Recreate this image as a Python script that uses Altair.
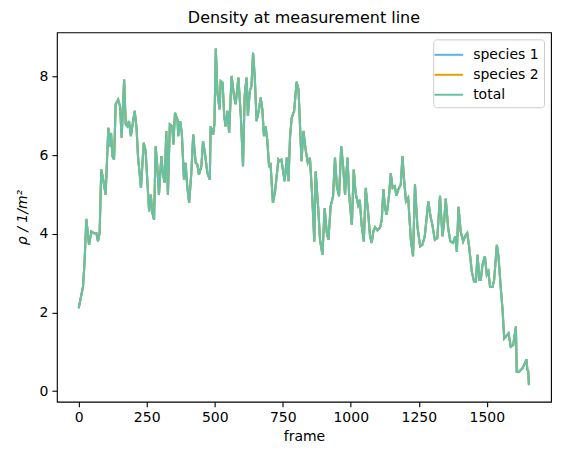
import altair as alt
import pandas as pd

frames = [
    0, 16, 22, 28, 38, 47, 56, 65, 71, 77,
    83, 89, 99, 109, 114, 119, 124, 130, 136, 145,
    152, 158, 167, 173, 179, 185, 192, 200, 206, 213,
    218, 229, 239, 246, 259, 265, 271, 277, 283, 289,
    295, 304, 310, 316, 322, 328, 335, 344, 348, 354,
    363, 366, 373, 379, 387, 393, 399, 406, 414, 421,
    430, 436, 442, 451, 457, 464, 473, 482, 485, 494,
    499, 504, 510, 518, 522, 529, 535, 540, 547, 553,
    562, 571, 577, 587, 596, 604, 610, 617, 622, 629,
    635, 641, 647, 654, 663, 669, 675, 681, 687, 693,
    700, 705, 714, 722, 734, 738, 745, 757, 765, 771,
    777, 783, 792, 801, 808, 819, 826, 834, 842, 850,
    859, 866, 871, 880, 887, 896, 904, 912, 918, 926,
    935, 942, 949, 957, 965, 972, 979, 988, 994, 1004,
    1011, 1018, 1027, 1033, 1040, 1048, 1055, 1064, 1071, 1077,
    1083, 1089, 1098, 1108, 1114, 1120, 1126, 1132, 1141, 1147,
    1154, 1162, 1168, 1175, 1184, 1190, 1196, 1203, 1211, 1221,
    1229, 1236, 1245, 1255, 1263, 1272, 1285, 1293, 1300, 1309,
    1318, 1328, 1337, 1343, 1349, 1358, 1366, 1376, 1384, 1390, 1396,
    1404, 1413, 1420, 1428, 1435, 1445, 1453, 1460, 1466, 1473,
    1478, 1484, 1493, 1500, 1506, 1512, 1521, 1527, 1537, 1543,
    1551, 1558, 1564, 1570, 1580, 1588, 1597, 1607, 1610, 1619,
    1631, 1637, 1646, 1649, 1652, 1655,
]

density_total = [
    2.11, 2.66, 3.34, 4.38, 3.72, 4.06, 4.02, 4.02, 3.81, 4.02,
    5.64, 5.43, 5.00, 6.70, 6.23, 6.57, 5.98, 5.89, 7.30, 7.42,
    7.25, 6.45, 7.93, 6.79, 6.74, 6.87, 6.49, 6.87, 7.13, 6.66,
    5.98, 5.17, 6.32, 6.11, 4.57, 5.00, 4.53, 4.36, 6.23, 5.72,
    5.00, 5.98, 5.51, 5.30, 6.62, 5.00, 6.79, 6.74, 6.28, 7.08,
    6.91, 6.49, 6.87, 6.57, 5.38, 5.81, 5.21, 4.79, 5.55, 6.53,
    5.81, 5.77, 5.51, 5.72, 6.36, 6.06, 5.55, 5.38, 6.74, 6.53,
    6.79, 8.72, 7.59, 7.17, 7.89, 7.85, 7.00, 6.74, 7.13, 6.57,
    8.02, 7.51, 7.30, 7.98, 7.00, 5.72, 7.51, 7.98, 7.00, 7.64,
    7.76, 8.61, 8.02, 6.87, 7.17, 7.47, 7.17, 6.49, 6.74, 6.40,
    5.70, 5.81, 4.79, 5.09, 5.89, 5.85, 5.89, 5.34, 5.94, 5.34,
    6.49, 6.96, 7.13, 7.87, 7.68, 5.85, 6.62, 6.15, 5.81, 5.94,
    4.87, 3.81, 5.59, 4.70, 3.85, 3.47, 4.66, 4.02, 3.85, 4.70,
    4.96, 5.94, 5.21, 4.96, 6.23, 5.72, 5.00, 5.94, 5.00, 4.23,
    5.64, 5.04, 4.74, 4.87, 4.23, 3.81, 5.17, 4.53, 3.94, 3.77,
    4.06, 4.17, 4.09, 4.17, 4.36, 5.14, 4.66, 4.49, 5.00, 5.54,
    5.17, 5.21, 4.97, 5.13, 5.26, 5.98, 5.38, 4.83, 4.92, 3.85,
    3.43, 5.26, 4.19, 3.68, 3.72, 3.94, 4.83, 4.45, 4.23, 3.85,
    3.89, 4.97, 3.94, 4.28, 4.90, 4.15, 3.81, 3.77, 3.94, 3.55, 4.69,
    4.06, 3.81, 3.94, 4.02, 3.68, 3.04, 2.79, 2.79, 3.47, 2.83,
    2.83, 3.21, 3.43, 2.96, 3.04, 2.65, 2.65, 2.83, 3.72, 3.43,
    2.66, 2.07, 1.34, 1.39, 1.47, 1.13, 1.17, 1.64, 0.49, 0.49,
    0.58, 0.66, 0.81, 0.54, 0.52, 0.15,
]

# species curves coincide with the total in the picture
density_species_1 = list(density_total)
density_species_2 = list(density_total)

series_names = ["species 1", "species 2", "total"]
series_colors = ["#56b4e9", "#e69f00", "#66c2a5"]
x_ticks = [0, 250, 500, 750, 1000, 1250, 1500]
y_ticks = [0, 2, 4, 6, 8]

rows = []
for name, vals in zip(series_names, [density_species_1, density_species_2, density_total]):
    for f, v in zip(frames, vals):
        rows.append({"frame": f, "density": v, "series": name})
df = pd.DataFrame(rows)

FONT = "DejaVu Sans"

chart = (
    alt.Chart(df)
    .mark_line(strokeWidth=2.1, clip=True)
    .encode(
        x=alt.X(
            "frame:Q",
            scale=alt.Scale(domain=[-80, 1736], nice=False, zero=False),
            axis=alt.Axis(values=x_ticks, title="frame", format="d"),
        ),
        y=alt.Y(
            "density:Q",
            scale=alt.Scale(domain=[-0.27, 9.13], nice=False, zero=False),
            axis=alt.Axis(values=y_ticks, title="ρ / 1/m²", format="d"),
        ),
        color=alt.Color(
            "series:N",
            scale=alt.Scale(domain=series_names, range=series_colors),
            legend=alt.Legend(
                title=None,
                orient="top-right",
                offset=7,
                symbolType="M-1.5,0L1.5,0",
                symbolSize=361,
                symbolStrokeWidth=2,
                labelFontSize=14,
                labelFont=FONT,
                labelColor="#000000",
                labelOffset=14,
                padding=5,
                rowPadding=2,
                strokeColor="#cccccc",
                fillColor="rgba(255,255,255,0.8)",
                cornerRadius=3,
            ),
        ),
    )
    .properties(
        width=495,
        height=370,
        title=alt.TitleParams(
            "Density at measurement line",
            fontSize=16,
            fontWeight="normal",
            font=FONT,
            color="#000000",
            offset=6,
        ),
        autosize=alt.AutoSizeParams(type="none"),
        padding={"left": 49, "top": 24, "right": 2, "bottom": 45},
    )
    .configure_view(stroke="#000000", strokeWidth=1.1)
    .configure_axis(
        grid=False,
        domain=False,
        tickColor="#000000",
        tickSize=5,
        tickWidth=1.1,
        labelFont=FONT,
        labelFontSize=14,
        labelColor="#000000",
        labelPadding=4,
        titleFont=FONT,
        titleFontSize=14,
        titleFontWeight="normal",
        titleColor="#000000",
    )
    .configure_axisY(titlePadding=10, titleFontStyle="italic")
    .configure_axisX(titlePadding=5)
)

chart.save("out.html", embed_options={"renderer": "svg", "actions": False})
